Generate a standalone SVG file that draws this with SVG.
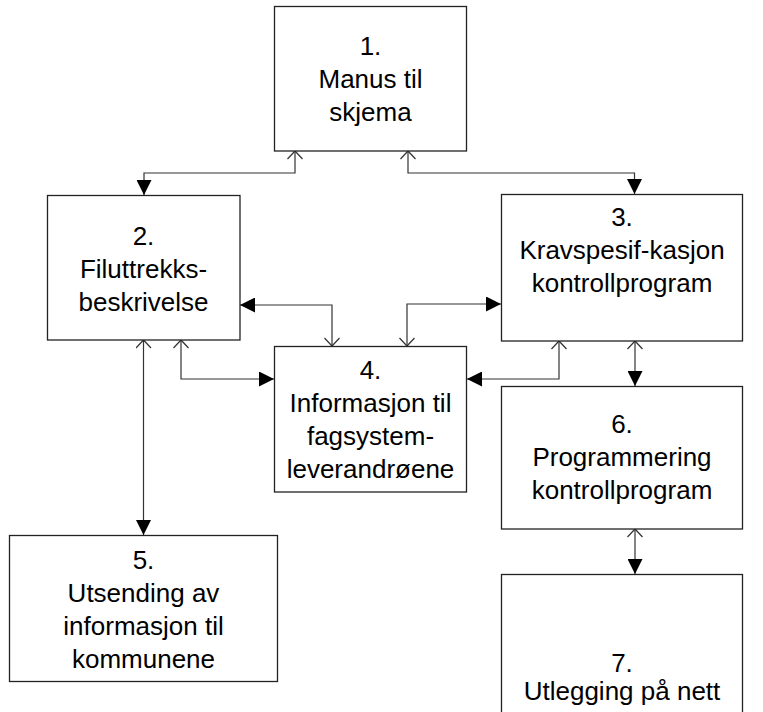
<svg xmlns="http://www.w3.org/2000/svg" width="763" height="712" viewBox="0 0 763 712">
<style>
.box{fill:#fff;stroke:#222;stroke-width:1.3}
.lbl{font-family:"Liberation Sans",Arial,sans-serif;font-size:26px;fill:#000;text-anchor:middle}
.conn{fill:none;stroke:#333;stroke-width:1.2}
</style>
<defs>
<marker id="filled" viewBox="0 0 15 15" refX="15" refY="7.5" markerWidth="15" markerHeight="15" markerUnits="userSpaceOnUse" orient="auto">
<path d="M0,0 L15,7.5 L0,15 z" fill="#000"/>
</marker>
<marker id="open" viewBox="0 0 10 16" refX="9" refY="8" markerWidth="10" markerHeight="16" markerUnits="userSpaceOnUse" orient="auto-start-reverse">
<path d="M1,0.5 L9,8 L1,15.5" fill="none" stroke="#333" stroke-width="1.2"/>
</marker>
</defs>
<rect width="763" height="712" fill="#fff"/>
<g id="connectors">
<path class="conn" d="M295,151 V173 H144 V195" marker-start="url(#open)" marker-end="url(#filled)"/>
<path class="conn" d="M408,151 V173 H634.5 V194" marker-start="url(#open)" marker-end="url(#filled)"/>
<path class="conn" d="M332,346 V305 H240" marker-start="url(#open)" marker-end="url(#filled)"/>
<path class="conn" d="M181,340 V379 H274" marker-start="url(#open)" marker-end="url(#filled)"/>
<path class="conn" d="M407,346 V304 H501" marker-start="url(#open)" marker-end="url(#filled)"/>
<path class="conn" d="M559,341 V379 H467" marker-start="url(#open)" marker-end="url(#filled)"/>
<path class="conn" d="M143.5,340 V535" marker-start="url(#open)" marker-end="url(#filled)"/>
<path class="conn" d="M635,341 V386" marker-start="url(#open)" marker-end="url(#filled)"/>
<path class="conn" d="M635,529 V574" marker-start="url(#open)" marker-end="url(#filled)"/>
</g>
<g id="node1">
<rect class="box" x="274.5" y="6.5" width="192" height="144.5"/>
<text class="lbl" x="370.5" y="55">1.</text>
<text class="lbl" x="370.5" y="88">Manus til</text>
<text class="lbl" x="370.5" y="121">skjema</text>
</g>
<g id="node2">
<rect class="box" x="47.5" y="195.5" width="192.5" height="144.5"/>
<text class="lbl" x="143.5" y="245">2.</text>
<text class="lbl" x="143.5" y="278">Filuttrekks-</text>
<text class="lbl" x="143.5" y="311">beskrivelse</text>
</g>
<g id="node3">
<rect class="box" x="501.5" y="194.5" width="241" height="146.5"/>
<text class="lbl" x="622" y="226">3.</text>
<text class="lbl" x="622" y="259">Kravspesif-kasjon</text>
<text class="lbl" x="622" y="292">kontrollprogram</text>
</g>
<g id="node4">
<rect class="box" x="274.5" y="346.5" width="192" height="145.5"/>
<text class="lbl" x="370.5" y="379">4.</text>
<text class="lbl" x="370.5" y="412">Informasjon til</text>
<text class="lbl" x="370.5" y="445">fagsystem-</text>
<text class="lbl" x="370.5" y="478">leverandrøene</text>
</g>
<g id="node5">
<rect class="box" x="9.5" y="535.5" width="268" height="146"/>
<text class="lbl" x="143.5" y="569">5.</text>
<text class="lbl" x="143.5" y="602">Utsending av</text>
<text class="lbl" x="143.5" y="635">informasjon til</text>
<text class="lbl" x="143.5" y="668">kommunene</text>
</g>
<g id="node6">
<rect class="box" x="501.5" y="386.5" width="241" height="142.5"/>
<text class="lbl" x="622" y="433">6.</text>
<text class="lbl" x="622" y="466">Programmering</text>
<text class="lbl" x="622" y="499">kontrollprogram</text>
</g>
<g id="node7">
<rect class="box" x="501.5" y="574.5" width="241" height="190"/>
<text class="lbl" x="622" y="672">7.</text>
<text class="lbl" x="622" y="700">Utlegging på nett</text>
</g>
</svg>
